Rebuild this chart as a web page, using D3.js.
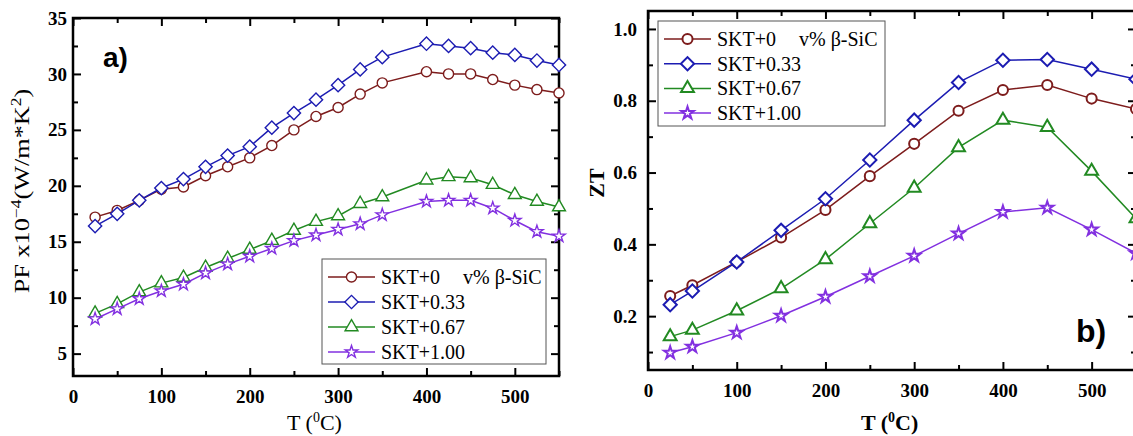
<!DOCTYPE html>
<html>
<head>
<meta charset="utf-8">
<script src="https://cdn.jsdelivr.net/npm/d3@7"></script>
<style>
  body { margin: 0; background: #fff; }
  svg { display: block; }
</style>
</head>
<body>
<script>
'use strict'

// panel a) : power factor
const tempA = [25, 50, 75, 100, 125, 150, 175, 200, 225, 250, 275, 300, 325, 350, 400, 425, 450, 475, 500, 525, 550]
const pf0 = [17.2, 17.8, 18.7, 19.7, 19.9, 20.9, 21.7, 22.5, 23.6, 25.0, 26.2, 27.0, 28.2, 29.2, 30.2, 30.0, 30.0, 29.5, 29.0, 28.6, 28.3]
const pf033 = [16.4, 17.5, 18.7, 19.8, 20.6, 21.7, 22.7, 23.5, 25.2, 26.5, 27.7, 29.0, 30.4, 31.5, 32.7, 32.5, 32.3, 31.9, 31.7, 31.2, 30.8]
const pf067 = [8.6, 9.45, 10.5, 11.3, 11.8, 12.7, 13.5, 14.3, 15.1, 16.0, 16.8, 17.3, 18.4, 19.0, 20.5, 20.8, 20.7, 20.1, 19.2, 18.6, 18.1]
const pf100 = [8.1, 9.0, 9.9, 10.6, 11.2, 12.2, 13.0, 13.7, 14.4, 15.1, 15.6, 16.1, 16.6, 17.4, 18.6, 18.7, 18.7, 18.0, 16.9, 15.9, 15.5]

// panel b) : figure of merit
const tempB = [25, 50, 100, 150, 200, 250, 300, 350, 400, 450, 500, 550]
const zt0 = [0.256, 0.286, 0.351, 0.419, 0.496, 0.590, 0.680, 0.772, 0.830, 0.844, 0.806, 0.777]
const zt033 = [0.232, 0.270, 0.351, 0.439, 0.527, 0.635, 0.746, 0.851, 0.913, 0.915, 0.888, 0.860]
const zt067 = [0.143, 0.161, 0.215, 0.277, 0.358, 0.458, 0.557, 0.670, 0.746, 0.726, 0.604, 0.472]
const zt100 = [0.098, 0.115, 0.154, 0.201, 0.254, 0.311, 0.368, 0.430, 0.490, 0.502, 0.441, 0.375]

const seriesNames = ['SKT+0', 'SKT+0.33', 'SKT+0.67', 'SKT+1.00']
const legendNote = 'v% \u03b2-SiC'
const xTicks = [0, 100, 200, 300, 400, 500]
const xMinor = [50, 150, 250, 350, 450, 550]
const pfTicks = [5, 10, 15, 20, 25, 30, 35]
const pfMinor = [7.5, 12.5, 17.5, 22.5, 27.5, 32.5]
const ztTicks = [0.2, 0.4, 0.6, 0.8, 1.0]
const ztMinor = [0.1, 0.3, 0.5, 0.7, 0.9]

const colors = ['#7d1c1c', '#1c1cb2', '#228a22', '#8230e0']
const serif = '"Liberation Serif", "Times New Roman", serif'
const sans = '"Liberation Sans", Arial, sans-serif'

// marker shapes (diamond = square turned 45deg)
const shapes = [
	d3.symbol(d3.symbolCircle, 80)(),
	d3.symbol(d3.symbolSquare, 88)(),
	d3.symbol(d3.symbolTriangle, 72)(),
	d3.symbol(d3.symbolStar, 48)()
]
const shapeRot = [0, 45, 0, 0]

const svg = d3.select('body').append('svg')
	.attr('width', 1133)
	.attr('height', 436)
	.style('font-family', serif)

svg.append('rect').attr('width', 1133).attr('height', 436).attr('fill', '#fff')

function drawPanel(p) {
	const x = d3.scaleLinear().domain([0, 550]).range([p.left, p.right])
	const y = d3.scaleLinear().domain(p.yDomain).range([p.bottom, p.top])
	const g = svg.append('g')

	// ticks on all four sides, pointing inwards
	const axes = [
		[d3.axisBottom(x).tickValues(xTicks).tickSize(-8).tickPadding(14), 'translate(0,' + p.bottom + ')', true],
		[d3.axisBottom(x).tickValues(xMinor).tickSize(-5).tickFormat(''), 'translate(0,' + p.bottom + ')', false],
		[d3.axisTop(x).tickValues(xTicks).tickSize(-8).tickFormat(''), 'translate(0,' + p.top + ')', false],
		[d3.axisTop(x).tickValues(xMinor).tickSize(-5).tickFormat(''), 'translate(0,' + p.top + ')', false],
		[d3.axisLeft(y).tickValues(p.yTicks).tickSize(-8).tickPadding(p.yPad).tickFormat(p.yFormat), 'translate(' + p.left + ',0)', true],
		[d3.axisLeft(y).tickValues(p.yMinor).tickSize(-5).tickFormat(''), 'translate(' + p.left + ',0)', false],
		[d3.axisRight(y).tickValues(p.yTicks).tickSize(-8).tickFormat(''), 'translate(' + p.right + ',0)', false],
		[d3.axisRight(y).tickValues(p.yMinor).tickSize(-5).tickFormat(''), 'translate(' + p.right + ',0)', false]
	]
	axes.forEach(([ax, tr, lab]) => {
		const a = g.append('g').attr('transform', tr).call(ax)
		a.select('.domain').remove()
		a.selectAll('line').attr('stroke', '#000').attr('stroke-width', 2)
		if (lab) {
			a.selectAll('text')
				.attr('fill', '#000')
				.style('font-family', serif)
				.style('font-size', '19px')
				.style('font-weight', 'bold')
		}
	})

	// frame
	g.append('rect')
		.attr('x', p.left).attr('y', p.top)
		.attr('width', p.right - p.left).attr('height', p.bottom - p.top)
		.attr('fill', 'none').attr('stroke', '#000').attr('stroke-width', 2.5)

	// lines then hollow markers
	const line = d3.line().x(d => x(d[0])).y(d => y(d[1]))
	p.series.forEach((vals, i) => {
		const pts = p.temps.map((t, j) => [t, vals[j]])
		g.append('path').datum(pts)
			.attr('d', line)
			.attr('fill', 'none').attr('stroke', colors[i]).attr('stroke-width', 1.5)
		g.selectAll('.m' + i).data(pts).enter().append('path')
			.attr('class', 'm' + i)
			.attr('d', shapes[i])
			.attr('transform', d => 'translate(' + x(d[0]) + ',' + y(d[1]) + ') rotate(' + shapeRot[i] + ')')
			.attr('fill', '#fff').attr('stroke', colors[i]).attr('stroke-width', p.markW)
	})

	// legend
	const lg = g.append('g')
	lg.append('rect')
		.attr('x', p.leg.x).attr('y', p.leg.y).attr('width', p.leg.w).attr('height', p.leg.h)
		.attr('fill', '#fff').attr('stroke', '#555').attr('stroke-width', 1)
	seriesNames.forEach((name, i) => {
		const cy = p.leg.y + 18 + i * p.leg.step
		const lx = p.leg.x + 6
		lg.append('line')
			.attr('x1', lx).attr('x2', lx + 47).attr('y1', cy).attr('y2', cy)
			.attr('stroke', colors[i]).attr('stroke-width', 1.5)
		lg.append('path')
			.attr('d', shapes[i])
			.attr('transform', 'translate(' + (lx + 23.5) + ',' + cy + ') rotate(' + shapeRot[i] + ')')
			.attr('fill', '#fff').attr('stroke', colors[i]).attr('stroke-width', p.markW)
		lg.append('text')
			.attr('x', lx + 53).attr('y', cy + 7)
			.style('font-size', '20px')
			.text(name)
		if (i === 0) {
			lg.append('text')
				.attr('x', lx + 135).attr('y', cy + 7)
				.style('font-size', '20px')
				.text(legendNote)
		}
	})
	return g
}

// a)
const ga = drawPanel({
	left: 73, right: 559, top: 18, bottom: 376,
	yDomain: [3, 35], yTicks: pfTicks, yMinor: pfMinor, yPad: 6, yFormat: d3.format('d'),
	temps: tempA, series: [pf0, pf033, pf067, pf100], markW: 1.4,
	leg: { x: 322, y: 259, w: 224, h: 105, step: 25 }
})
ga.append('text')
	.attr('x', 103).attr('y', 67)
	.style('font-family', sans).style('font-weight', 'bold').style('font-size', '28px')
	.text('a)')
const xla = ga.append('text')
	.attr('x', 287).attr('y', 430)
	.style('font-size', '22px')
xla.append('tspan').text('T (')
xla.append('tspan').attr('dy', -8).style('font-size', '14px').text('0')
xla.append('tspan').attr('dy', 8).text('C)')
// the y title is drawn wider along its baseline, as in the picture
const yla = ga.append('text')
	.attr('transform', 'translate(29,191) rotate(-90) scale(1.25,1)')
	.attr('text-anchor', 'middle')
	.style('font-size', '21px')
yla.append('tspan').text('PF x10')
yla.append('tspan').attr('dy', -8).style('font-size', '14px').text('\u22124')
yla.append('tspan').attr('dy', 8).text('(W/m*K')
yla.append('tspan').attr('dy', -8).style('font-size', '14px').text('2')
yla.append('tspan').attr('dy', 8).text(')')

// b)
const gb = drawPanel({
	left: 648, right: 1136, top: 11, bottom: 370,
	yDomain: [0.05, 1.05], yTicks: ztTicks, yMinor: ztMinor, yPad: 11, yFormat: d3.format('.1f'),
	temps: tempB, series: [zt0, zt033, zt067, zt100], markW: 2,
	leg: { x: 658, y: 21, w: 227, h: 105, step: 24.7 }
})
gb.append('text')
	.attr('x', 1076).attr('y', 342)
	.style('font-family', sans).style('font-weight', 'bold').style('font-size', '32px')
	.text('b)')
const xlb = gb.append('text')
	.attr('x', 861).attr('y', 430)
	.style('font-size', '22px').style('font-weight', 'bold')
xlb.append('tspan').text('T (')
xlb.append('tspan').attr('dy', -8).style('font-size', '14px').text('0')
xlb.append('tspan').attr('dy', 8).text('C)')
gb.append('text')
	.attr('transform', 'translate(604,183) rotate(-90)')
	.attr('text-anchor', 'middle')
	.style('font-size', '22px').style('font-weight', 'bold')
	.text('ZT')
</script>
</body>
</html>
